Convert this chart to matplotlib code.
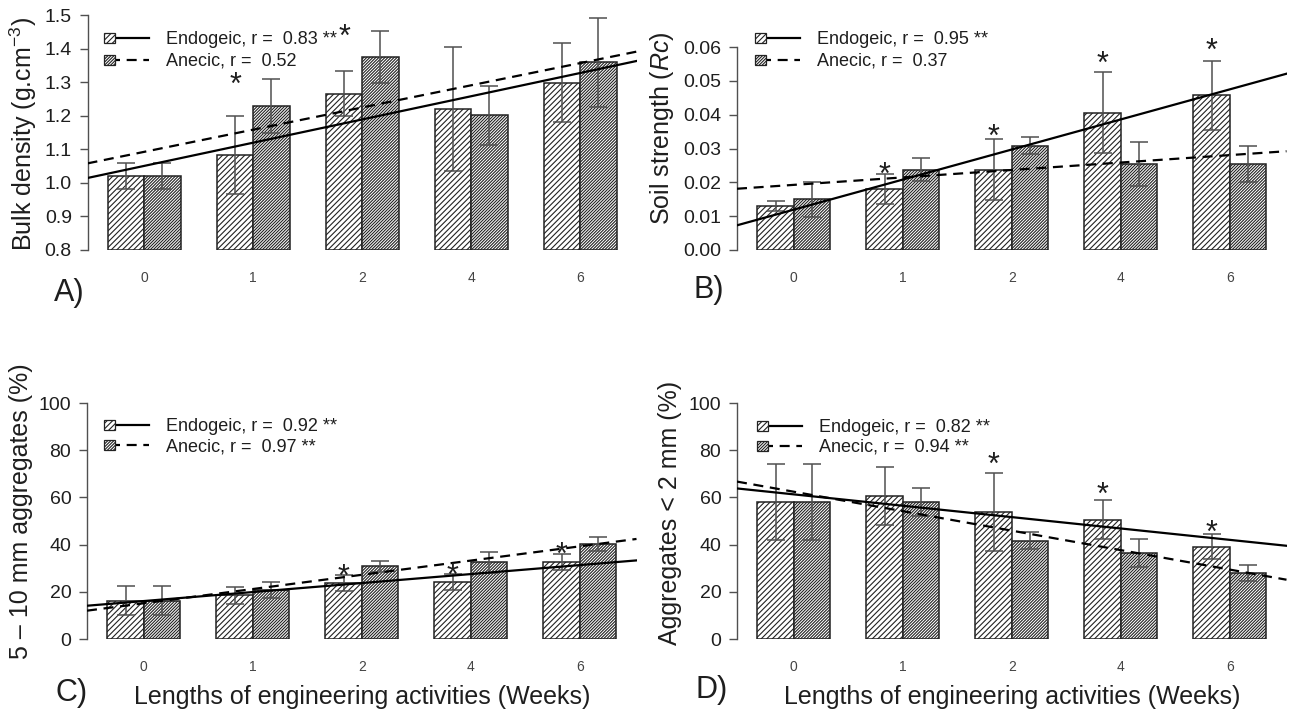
import numpy as np
import matplotlib.pyplot as plt
from matplotlib.patches import Rectangle
from matplotlib.lines import Line2D

plt.rcParams['font.family'] = ['Liberation Sans', 'DejaVu Sans']
plt.rcParams['mathtext.fontset'] = 'custom'
plt.rcParams['mathtext.rm'] = 'Liberation Sans'
plt.rcParams['mathtext.it'] = 'Liberation Sans:italic'
plt.rcParams['hatch.linewidth'] = 0.8
plt.rcParams['hatch.color'] = '#2e2e2e'

###--- Data ---###
weeks = ['0', '1', '2', '4', '6']
species = ['Endogeic', 'Anecic']

# A) bulk density
bd_endo = [1.02, 1.083, 1.265, 1.22, 1.298]
bd_endo_err = [0.038, 0.117, 0.067, 0.185, 0.118]
bd_anec = [1.02, 1.229, 1.375, 1.201, 1.359]
bd_anec_err = [0.038, 0.080, 0.078, 0.089, 0.133]
bd_fit_endo = [1.0505, 0.0692]     # value at week group 0, change per group
bd_fit_anec = [1.0924, 0.0661]
bd_r = ['0.83 **', '0.52']
bd_star_groups = [1, 2]
bd_star_y = [1.318, 1.461]

# B) soil strength
ss_endo = [0.0129, 0.0180, 0.0237, 0.0406, 0.0457]
ss_endo_err = [0.0015, 0.0044, 0.0090, 0.0120, 0.0102]
ss_anec = [0.0150, 0.0237, 0.0308, 0.0254, 0.0253]
ss_anec_err = [0.0052, 0.0034, 0.0025, 0.0064, 0.0053]
ss_fit_endo = [0.01192, 0.00889]
ss_fit_anec = [0.01925, 0.00220]
ss_r = ['0.95 **', '0.37']
ss_star_groups = [1, 2, 3, 4]
ss_star_y = [0.0246, 0.0360, 0.0575, 0.0612]

# C) 5-10 mm aggregates
ag10_endo = [16.2, 18.5, 23.6, 24.2, 32.6]
ag10_endo_err = [6.1, 3.5, 3.4, 3.4, 3.5]
ag10_anec = [16.2, 20.8, 30.8, 32.5, 40.3]
ag10_anec_err = [6.1, 3.5, 2.3, 4.4, 2.9]
ag10_fit_endo = [16.08, 3.81]
ag10_fit_anec = [15.14, 6.03]
ag10_r = ['0.92 **', '0.97 **']
ag10_star_groups = [2, 3, 4]
ag10_star_y = [29.7, 30.1, 39.3]

# D) aggregates < 2 mm
ag2_endo = [58.1, 60.7, 53.8, 50.6, 39.1]
ag2_endo_err = [16.0, 12.2, 16.7, 8.2, 5.3]
ag2_anec = [58.1, 57.9, 41.7, 36.4, 27.9]
ag2_anec_err = [16.0, 5.9, 3.7, 5.8, 3.5]
ag2_fit_endo = [61.29, -4.82]
ag2_fit_anec = [62.41, -8.25]
ag2_r = ['0.82 **', '0.94 **']
ag2_star_groups = [2, 3, 4]
ag2_star_y = [77.4, 64.4, 48.7]

###--- Style ---###
W, H = 1293, 714
EDGE = '#222222'
ERR = '#505050'
TXT = '#1e1e1e'
XLIM = (0.44, 15.56)
HATCH_E = '//////'
HATCH_A = '///////////'

fig = plt.figure(figsize=(W / 100, H / 100), dpi=100)


def px_axes(l, t, r, b):
    return fig.add_axes([l / W, 1 - b / H, (r - l) / W, (b - t) / H])


def fx(x):
    return x / W


def fy(y):
    return 1 - y / H


gc = 2 + 3 * np.arange(len(weeks))     # group centres in bar units
xe, xa = gc - 0.5, gc + 0.5


def draw_panel(ax, endo, endo_err, anec, anec_err, fit_e, fit_a, star_g, star_y,
               ylim, yticks, fmt, ylabel, lab_xy):
    y0 = ylim[0]
    ax.bar(xe, np.array(endo) - y0, bottom=y0, width=1, facecolor='white',
           edgecolor=EDGE, hatch=HATCH_E, linewidth=1.1, zorder=2)
    ax.bar(xa, np.array(anec) - y0, bottom=y0, width=1, facecolor='white',
           edgecolor=EDGE, hatch=HATCH_A, linewidth=1.1, zorder=2)
    for xs, v, e in [(xe, endo, endo_err), (xa, anec, anec_err)]:
        ax.errorbar(xs, v, yerr=e, fmt='none', ecolor=ERR, elinewidth=1.1,
                    capsize=6.8, capthick=1.1, zorder=3)
    xx = np.array(XLIM)
    g = (xx - 2) / 3
    ax.plot(xx, fit_e[0] + fit_e[1] * g, color='black', lw=1.6, zorder=4)
    ax.plot(xx, fit_a[0] + fit_a[1] * g, color='black', lw=1.6,
            ls=(0, (4.5, 3)), zorder=4)
    for gi, sy in zip(star_g, star_y):
        ax.annotate('*', (xe[gi], sy), xytext=(0, -12.5), textcoords='offset points',
                    ha='center', va='baseline', fontsize=22, color=TXT, zorder=5)
    ax.set_xlim(XLIM)
    ax.set_ylim(ylim)
    for s in ['top', 'right', 'bottom']:
        ax.spines[s].set_visible(False)
    ax.spines['left'].set_bounds(yticks[0], yticks[-1])
    ax.spines['left'].set_color(ERR)
    ax.spines['left'].set_linewidth(1.0)
    ax.set_yticks(yticks, [fmt % t for t in yticks])
    ax.set_xticks(gc, weeks)
    ax.tick_params(axis='y', length=5.5, width=1.0, color=ERR, pad=5.8,
                   labelsize=14, labelcolor=TXT)
    ax.tick_params(axis='x', length=0, pad=15, labelsize=10, labelcolor='#444444')
    ax.set_ylabel(ylabel, fontsize=18, color=TXT)
    ax.yaxis.set_label_coords(*lab_xy)
    ax.yaxis.label.set_verticalalignment('center')
    ax.patch.set_visible(False)


def draw_legend(x0, rows, r_txt):
    for i, (name, r) in enumerate(zip(species, r_txt)):
        y = rows[i]
        ls = '-' if i == 0 else (0, (4.5, 3))
        fig.add_artist(Line2D([fx(x0 + 5.5), fx(x0 + 45)], [fy(y), fy(y)],
                              color='black', lw=1.6, ls=ls, zorder=3))
        fig.add_artist(Rectangle((fx(x0), fy(y + 5)), 11 / W, 10 / H,
                                 transform=fig.transFigure, facecolor='white',
                                 edgecolor=EDGE, lw=0.9,
                                 hatch=HATCH_E if i == 0 else HATCH_A, zorder=4))
        fig.text(fx(x0 + 62), fy(y + 6), '%s, r =  %s' % (name, r),
                 fontsize=13, color=TXT, va='baseline', ha='left')


axA = px_axes(87.5, 15, 637, 250)
draw_panel(axA, bd_endo, bd_endo_err, bd_anec, bd_anec_err, bd_fit_endo, bd_fit_anec,
           bd_star_groups, bd_star_y, (0.8, 1.5), [0.8, 0.9, 1.0, 1.1, 1.2, 1.3, 1.4, 1.5],
           '%.1f', 'Bulk density (g.cm$^{-3}$)', (-0.117, 0.495))

axB = px_axes(737, 15, 1286.5, 250)
draw_panel(axB, ss_endo, ss_endo_err, ss_anec, ss_anec_err, ss_fit_endo, ss_fit_anec,
           ss_star_groups, ss_star_y, (0.0, 0.06 * 235 / 203),
           [0.0, 0.01, 0.02, 0.03, 0.04, 0.05, 0.06],
           '%.2f', 'Soil strength ($\\mathit{Rc}$)', (-0.1365, 0.52))

axC = px_axes(87, 403, 636.5, 639)
draw_panel(axC, ag10_endo, ag10_endo_err, ag10_anec, ag10_anec_err, ag10_fit_endo,
           ag10_fit_anec, ag10_star_groups, ag10_star_y, (0, 100), [0, 20, 40, 60, 80, 100],
           '%d', '5 \u2013 10 mm aggregates (%)', (-0.120, 0.542))

axD = px_axes(737, 403, 1286.5, 639)
draw_panel(axD, ag2_endo, ag2_endo_err, ag2_anec, ag2_anec_err, ag2_fit_endo,
           ag2_fit_anec, ag2_star_groups, ag2_star_y, (0, 100), [0, 20, 40, 60, 80, 100],
           '%d', 'Aggregates < 2 mm (%)', (-0.122, 0.536))

draw_legend(104, (37.5, 59.5), bd_r)
draw_legend(755, (38, 60), ss_r)
draw_legend(104, (425, 445), ag10_r)
draw_legend(757, (426, 446), ag2_r)

for lab, x, y in [('A)', 54, 293), ('B)', 694, 290), ('C)', 55, 693), ('D)', 696, 690)]:
    fig.text(fx(x), fy(y), lab, fontsize=22, color=TXT, ha='left', va='center')

for ax in [axC, axD]:
    ax.text(0.5, -58 / 236, 'Lengths of engineering activities (Weeks)', transform=ax.transAxes,
            ha='center', va='center', fontsize=18, color=TXT)

fig.savefig('out.png', dpi=100)
